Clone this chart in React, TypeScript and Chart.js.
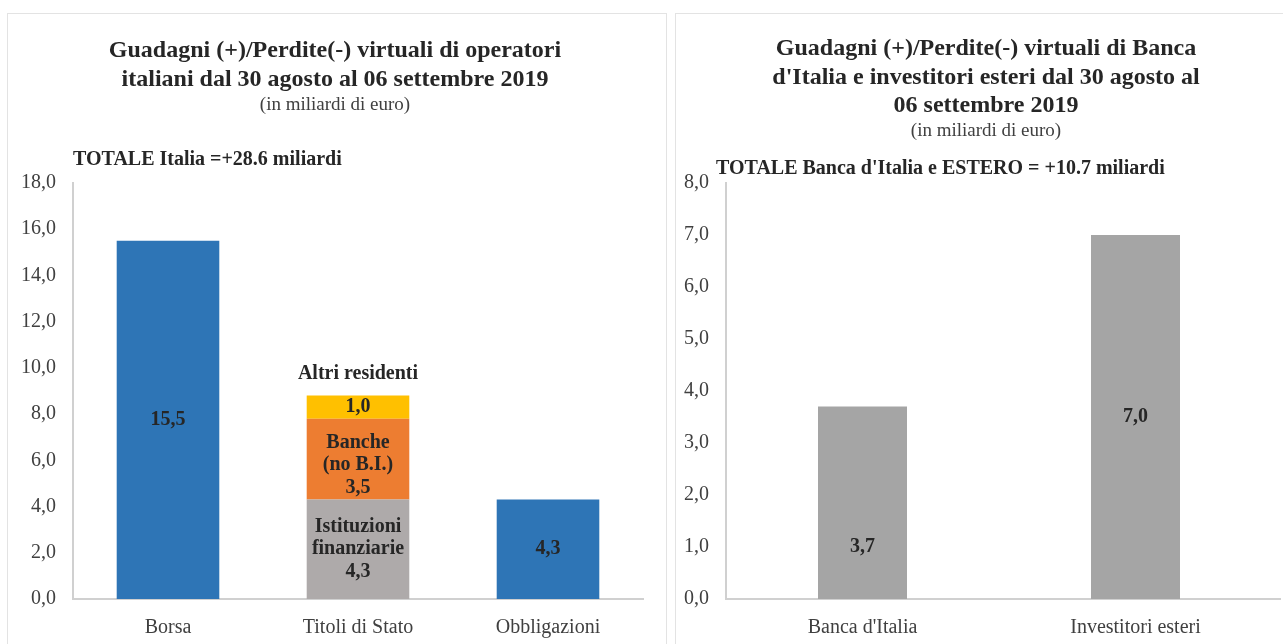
import React, { useEffect, useRef } from "react";
import { Chart, registerables } from "chart.js";

Chart.register(...registerables);

// ---------- Data ----------
const LEFT_CATEGORIES = ["Borsa", "Titoli di Stato", "Obbligazioni"];
const BORSA_OBBLIGAZIONI = [15.5, null, 4.3];
const ISTITUZIONI_FINANZIARIE = [null, 4.3, null];
const BANCHE_NO_BI = [null, 3.5, null];
const ALTRI_RESIDENTI = [null, 1.0, null];
const LEFT_Y_MAX = 18;
const LEFT_Y_STEP = 2;

const RIGHT_CATEGORIES = ["Banca d'Italia", "Investitori esteri"];
const RIGHT_VALUES = [3.7, 7.0];
const RIGHT_Y_MAX = 8;
const RIGHT_Y_STEP = 1;

const LEFT_TITLE = [
  "Guadagni (+)/Perdite(-) virtuali di operatori",
  "italiani dal 30 agosto al 06 settembre 2019",
];
const RIGHT_TITLE = [
  "Guadagni (+)/Perdite(-) virtuali di Banca",
  "d'Italia e investitori esteri dal 30 agosto al",
  "06 settembre 2019",
];
const SUBTITLE = "(in miliardi di euro)";
const LEFT_TOTAL = "TOTALE Italia =+28.6 miliardi";
const RIGHT_TOTAL = "TOTALE Banca d'Italia e ESTERO = +10.7 miliardi";

// ---------- Styles ----------
const SERIF = '"Liberation Serif", "DejaVu Serif", serif';
const BLUE = "#2E75B6";
const GRAY_L = "#AEAAAA";
const ORANGE = "#ED7D31";
const YELLOW = "#FFC000";
const GRAY_R = "#A5A5A5";
const TEXT = "#262626";
const AXIS_TEXT = "#404040";
const AXIS_LINE = "#D0D0D0";

const fmt = (v: number) => v.toFixed(1).replace(".", ",");

type TextSpec = {
  titleLines: string[];
  titleX: number;
  titleY: number;
  subtitleY: number;
  totalText: string;
  totalX: number;
  totalY: number;
  axisExtend?: number;
};

const textPlugin = (spec: TextSpec) => ({
  id: "texts",
  afterDraw(chart: any) {
    const ctx = chart.ctx;
    ctx.save();
    if (spec.axisExtend) {
      const ca = chart.chartArea;
      ctx.fillStyle = AXIS_LINE;
      ctx.fillRect(ca.right - 1, Math.round(ca.bottom) - 1, spec.axisExtend + 1, 2);
    }
    ctx.fillStyle = TEXT;
    ctx.textAlign = "center";
    ctx.textBaseline = "middle";
    ctx.font = `bold 24px ${SERIF}`;
    spec.titleLines.forEach((l, i) => ctx.fillText(l, spec.titleX, spec.titleY + i * 28.5));
    ctx.font = `19px ${SERIF}`;
    ctx.fillStyle = AXIS_TEXT;
    ctx.fillText(SUBTITLE, spec.titleX, spec.subtitleY);
    ctx.fillStyle = TEXT;
    ctx.textAlign = "left";
    ctx.font = `bold 20px ${SERIF}`;
    ctx.fillText(spec.totalText, spec.totalX, spec.totalY);

    // data labels
    ctx.textAlign = "center";
    ctx.font = `bold 20px ${SERIF}`;
    chart.data.datasets.forEach((ds: any, di: number) => {
      const meta = chart.getDatasetMeta(di);
      meta.data.forEach((el: any, i: number) => {
        const v = ds.data[i];
        if (v === null || v === undefined) return;
        const lines: string[] = [...(ds.labelPrefix || []), fmt(v)];
        const frac = ds.labelFrac ? ds.labelFrac[i] : 0.5;
        const cy = el.base + (el.y - el.base) * frac + (ds.labelShift || 0);
        const lh = 22.5;
        const start = cy - ((lines.length - 1) * lh) / 2;
        lines.forEach((l, k) => ctx.fillText(l, el.x, start + k * lh));
        if (ds.aboveLabel) ctx.fillText(ds.aboveLabel, el.x, el.y - 22);
      });
    });
    ctx.restore();
  },
});

function makeOptions(yMax: number, step: number, yWidth: number, padRight: number, barPct: number) {
  return {
    responsive: false,
    animation: false as const,
    devicePixelRatio: 1,
    layout: { padding: { top: 183, right: padRight, bottom: 0, left: 0 } },
    plugins: { legend: { display: false }, title: { display: false }, tooltip: { enabled: false } },
    datasets: { bar: { categoryPercentage: 1, barPercentage: barPct } },
    scales: {
      x: {
        stacked: true,
        grid: { display: false, drawTicks: false },
        border: { display: true, color: AXIS_LINE, width: 2 },
        ticks: { color: AXIS_TEXT, font: { family: SERIF, size: 20 }, padding: 17 },
        afterFit: (s: any) => {
          s.height = 45;
        },
      },
      y: {
        stacked: true,
        min: 0,
        max: yMax,
        grid: { display: false, drawTicks: false },
        border: { display: true, color: AXIS_LINE, width: 2 },
        ticks: {
          stepSize: step,
          color: AXIS_TEXT,
          font: { family: SERIF, size: 20 },
          padding: 17,
          callback: (v: any) => fmt(Number(v)),
        },
        afterFit: (s: any) => {
          s.width = yWidth;
        },
      },
    },
  };
}

function LeftChart() {
  const ref = useRef<HTMLCanvasElement>(null);
  useEffect(() => {
    const chart = new Chart(ref.current!, {
      type: "bar",
      data: {
        labels: LEFT_CATEGORIES,
        datasets: [
          { label: "Borsa/Obbligazioni", data: BORSA_OBBLIGAZIONI, backgroundColor: BLUE } as any,
          {
            label: "Istituzioni finanziarie",
            data: ISTITUZIONI_FINANZIARIE,
            backgroundColor: GRAY_L,
            labelPrefix: ["Istituzioni", "finanziarie"],
          },
          {
            label: "Banche (no B.I.)",
            data: BANCHE_NO_BI,
            backgroundColor: ORANGE,
            labelPrefix: ["Banche", "(no B.I.)"],
            labelShift: 6,
          },
          {
            label: "Altri residenti",
            data: ALTRI_RESIDENTI,
            backgroundColor: YELLOW,
            aboveLabel: "Altri residenti",
          },
        ],
      },
      options: makeOptions(LEFT_Y_MAX, LEFT_Y_STEP, 73, 27, 0.54) as any,
      plugins: [
        textPlugin({
          titleLines: LEFT_TITLE,
          titleX: 335,
          titleY: 51,
          subtitleY: 105,
          totalText: LEFT_TOTAL,
          totalX: 73,
          totalY: 160,
        }),
      ],
    });
    return () => chart.destroy();
  }, []);
  return <canvas ref={ref} width={670} height={644} style={{ position: "absolute", left: 0, top: 0 }} />;
}

function RightChart() {
  const ref = useRef<HTMLCanvasElement>(null);
  useEffect(() => {
    const chart = new Chart(ref.current!, {
      type: "bar",
      data: {
        labels: RIGHT_CATEGORIES,
        datasets: [
          {
            label: "Valore",
            data: RIGHT_VALUES,
            backgroundColor: GRAY_R,
            labelFrac: [0.27, 0.5],
          } as any,
        ],
      },
      options: makeOptions(RIGHT_Y_MAX, RIGHT_Y_STEP, 56, 11, 0.326) as any,
      plugins: [
        textPlugin({
          titleLines: RIGHT_TITLE,
          titleX: 316,
          titleY: 49,
          subtitleY: 131,
          totalText: RIGHT_TOTAL,
          totalX: 46,
          totalY: 169,
          axisExtend: 9,
        }),
      ],
    });
    return () => chart.destroy();
  }, []);
  return <canvas ref={ref} width={613} height={644} style={{ position: "absolute", left: 670, top: 0 }} />;
}

export default function App() {
  return (
    <div style={{ position: "absolute", left: 0, top: 0, width: 1283, height: 644, background: "#fff", overflow: "hidden" }}>
      <div style={{ position: "absolute", left: 7, top: 13, width: 660, height: 640, border: "1px solid #E3E3E3", boxSizing: "border-box" }} />
      <div style={{ position: "absolute", left: 675, top: 13, width: 620, height: 640, border: "1px solid #E3E3E3", boxSizing: "border-box" }} />
      <LeftChart />
      <RightChart />
    </div>
  );
}
